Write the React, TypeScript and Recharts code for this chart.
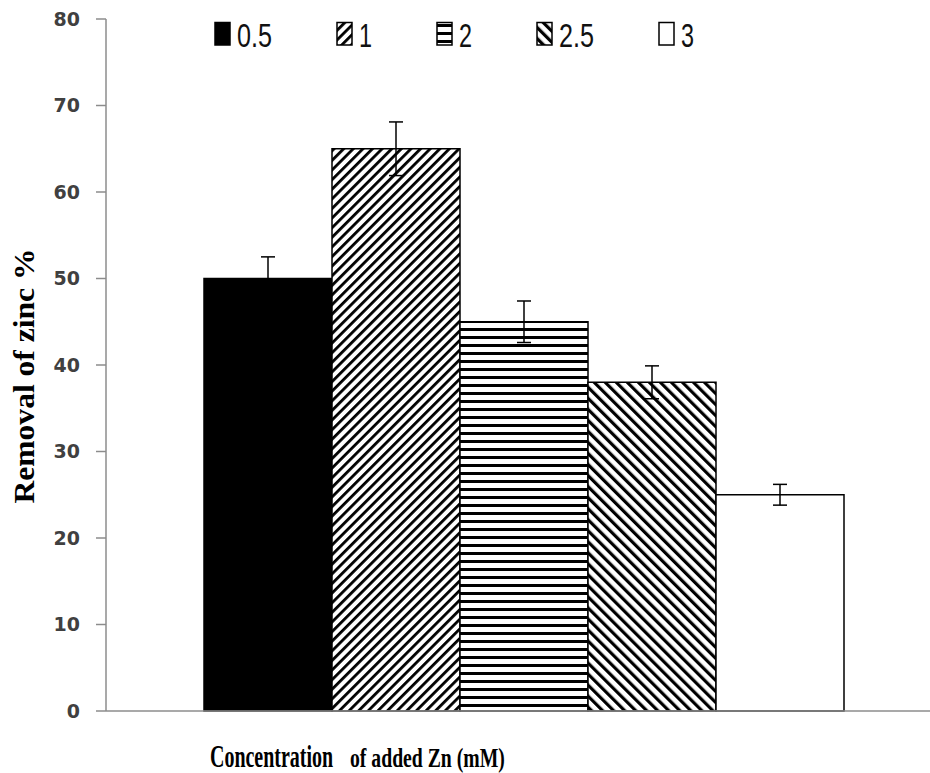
import React from 'react';
import { BarChart, Bar, XAxis, YAxis, ErrorBar } from 'recharts';

const seriesNames = ['0.5', '1', '2', '2.5', '3'];
const seriesKeys = ['c05', 'c1', 'c2', 'c25', 'c3'];
const removalValues = [50, 65, 45, 38, 25];
const errorValues = [2.5, 3.1, 2.4, 1.9, 1.2];
const yTicks = [0, 10, 20, 30, 40, 50, 60, 70, 80];
const categoryName = 'Zn';

const fills = ['#000000', 'url(#pDiagUp)', 'url(#pHoriz)', 'url(#pDiagDown)', '#ffffff'];

const row: Record<string, any> = { name: categoryName };
seriesKeys.forEach((k, i) => {
  row[k] = removalValues[i];
  row[k + '_err'] = errorValues[i];
});
const data = [row];

const SERIF = "'Liberation Serif', 'Times New Roman', serif";

const renderYLabel = (props: any) => {
  const vb = props.viewBox || { x: 0, y: 19, width: 106, height: 692 };
  const cx = vb.x + 34;
  const cy = vb.y + vb.height / 2 + 11;
  return (
    <text
      transform={`translate(${cx},${cy}) rotate(-90)`}
      textAnchor="middle"
      fontFamily={SERIF}
      fontWeight="bold"
      fontSize={30}
      textLength={255}
      lengthAdjust="spacingAndGlyphs"
      fill="#000"
    >
      Removal of zinc %
    </text>
  );
};

const renderXLabel = (props: any) => {
  const vb = props.viewBox || { x: 106, y: 711, width: 824, height: 62 };
  const baseY = vb.y + 56;
  return (
    <g>
      <text
        transform={`translate(${vb.x + 104},${baseY}) scale(0.624,1)`}
        x={0}
        y={0}
        fontFamily={SERIF}
        fontWeight="bold"
        fontSize={32}
        fill="#000"
      >
        Concentration
      </text>
      <text
        transform={`translate(${vb.x + 244},${baseY}) scale(0.73,1)`}
        x={0}
        y={0}
        fontFamily={SERIF}
        fontWeight="bold"
        fontSize={27}
        fill="#000"
      >
        of added Zn (mM)
      </text>
    </g>
  );
};

const LegendOverlay = () => {
  let x = 215;
  const items = seriesNames.map((name, i) => {
    const digits = name.replace(/[^0-9]/g, '').length;
    const dots = name.length - digits;
    const tw = digits * 13 + dots * 9;
    const ix = x;
    x += 16 + 7 + tw + 64;
    return (
      <g key={name}>
        <rect x={ix} y={22.5} width={15} height={22.5} fill={fills[i]} stroke="#000" strokeWidth={1.5} />
        <text
          x={ix + 22}
          y={46.5}
          fontFamily="'Liberation Sans', Arial, sans-serif"
          fontSize={34}
          textLength={tw}
          lengthAdjust="spacingAndGlyphs"
          fill="#111"
        >
          {name}
        </text>
      </g>
    );
  });
  return (
    <svg width={930} height={60} style={{ position: 'absolute', left: 0, top: 0, pointerEvents: 'none' }}>
      {items}
    </svg>
  );
};

export default function App() {
  return (
    <div style={{ position: 'absolute', left: 0, top: 0, width: 930, height: 773, background: '#fff' }}>
      <svg width={0} height={0} style={{ position: 'absolute' }}>
        <defs>
          <pattern id="pDiagUp" patternUnits="userSpaceOnUse" width={6.8} height={6.8} patternTransform="rotate(45)">
            <rect width={6.8} height={6.8} fill="#fff" />
            <rect width={2.8} height={6.8} fill="#000" />
          </pattern>
          <pattern id="pHoriz" patternUnits="userSpaceOnUse" width={8} height={8}>
            <rect width={8} height={8} fill="#fff" />
            <rect width={8} height={3} fill="#000" />
          </pattern>
          <pattern id="pDiagDown" patternUnits="userSpaceOnUse" width={7.8} height={7.8} patternTransform="rotate(-45)">
            <rect width={7.8} height={7.8} fill="#fff" />
            <rect width={3.2} height={7.8} fill="#000" />
          </pattern>
        </defs>
      </svg>
      <BarChart
        width={930}
        height={773}
        data={data}
        margin={{ top: 19, right: 0, left: 0, bottom: 0 }}
        barGap={0}
        barSize={128}
      >
        <XAxis
          dataKey="name"
          tick={false}
          tickLine={false}
          axisLine={{ stroke: '#8c8c8c', strokeWidth: 1.5 }}
          height={62}
          padding={{ left: 12, right: 0 }}
          label={{ content: renderXLabel }}
        />
        <YAxis
          domain={[0, 80]}
          ticks={yTicks}
          interval={0}
          width={106}
          tickSize={10}
          tickMargin={16}
          axisLine={{ stroke: '#8c8c8c', strokeWidth: 1.5 }}
          tickLine={{ stroke: '#8c8c8c', strokeWidth: 1.5 }}
          tick={{ fill: '#404040', fontSize: 19, fontWeight: 'bold', fontFamily: "'DejaVu Sans', sans-serif" }}
          label={{ content: renderYLabel }}
        />
        {seriesKeys.map((k, i) => (
          <Bar
            key={k}
            dataKey={k}
            name={seriesNames[i]}
            fill={fills[i]}
            stroke="#000"
            strokeWidth={1.5}
            isAnimationActive={false}
          >
            <ErrorBar dataKey={k + '_err'} width={7} stroke="#000" strokeWidth={1.5} direction="y" />
          </Bar>
        ))}
      </BarChart>
      <LegendOverlay />
    </div>
  );
}
